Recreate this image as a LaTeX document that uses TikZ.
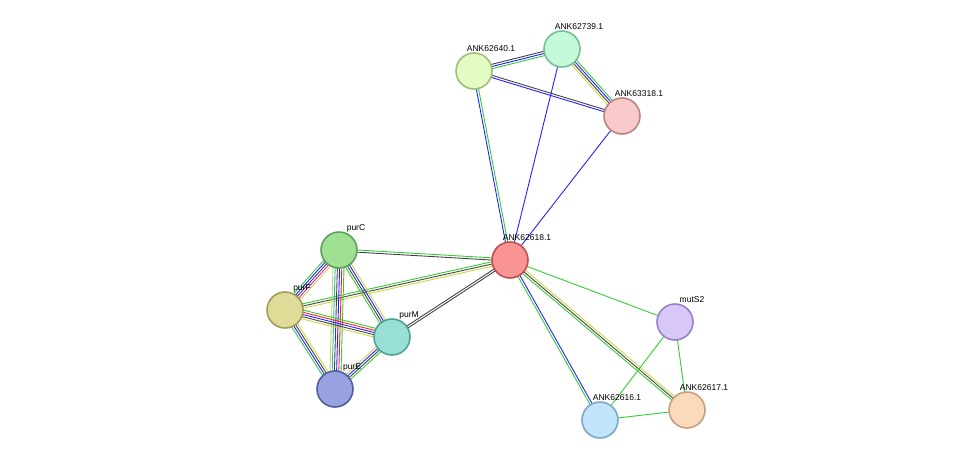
\documentclass[tikz,border=0pt]{standalone}
\usepackage{fontspec}
\setmainfont{Liberation Sans}
\usetikzlibrary{calc, backgrounds}

\definecolor{sgreen}{HTML}{33CC33}
\definecolor{sblue}{HTML}{2222FF}
\definecolor{sblack}{HTML}{444444}
\definecolor{syellow}{HTML}{C8D840}
\definecolor{sred}{HTML}{FF2020}
\definecolor{smag}{HTML}{DD22DD}
\definecolor{scyan}{HTML}{22BBDD}

% multi coloured string edge: #1,#2 nodes, #3 colour list
\newcommand{\sedge}[3]{%
  \foreach \c [count=\i] in {#3} {\xdef\nmax{\i}}%
  \foreach \c [count=\i] in {#3} {%
    \pgfmathsetmacro{\off}{(\i-(\nmax+1)/2)*2.2}
    \draw [\c, line width=0.9pt] ($(#1)!\off pt!90:(#2)$) -- ($(#2)!\off pt!-90:(#1)$);
  }%
}

\begin{document}
\begin{tikzpicture}[x=1pt, y=-1pt,
  prot/.style={draw, circle, line width=1.6pt, minimum size=36pt, inner sep=0pt},
  lbl/.style={anchor=west, xshift=17pt, yshift=22pt, inner sep=0pt, font=\fontsize{8.5}{10}\selectfont}]

\useasboundingbox (0,0) rectangle (976,466);

\node [prot, fill={rgb,255:red,250;green,148;blue,148}, draw={rgb,255:red,190;green,80;blue,80}, label={[lbl]center:ANK62618.1}] (r) at (510,260) {};
\node [prot, fill={rgb,255:red,226;green,252;blue,196}, draw={rgb,255:red,160;green,190;blue,120}, label={[lbl]center:ANK62640.1}] (a40) at (474,71) {};
\node [prot, fill={rgb,255:red,196;green,250;blue,218}, draw={rgb,255:red,120;green,190;blue,150}, label={[lbl]center:ANK62739.1}] (a39) at (562,49) {};
\node [prot, fill={rgb,255:red,248;green,202;blue,202}, draw={rgb,255:red,190;green,130;blue,130}, label={[lbl]center:ANK63318.1}] (a18) at (622,116) {};
\node [prot, fill={rgb,255:red,160;green,224;blue,146}, draw={rgb,255:red,96;green,160;blue,96}, label={[lbl]center:purC}] (pc) at (339,250) {};
\node [prot, fill={rgb,255:red,224;green,220;blue,152}, draw={rgb,255:red,160;green,156;blue,90}, label={[lbl]center:purF}] (pf) at (285,310) {};
\node [prot, fill={rgb,255:red,152;green,224;blue,214}, draw={rgb,255:red,80;green,160;blue,150}, label={[lbl]center:purM}] (pm) at (392,337) {};
\node [prot, fill={rgb,255:red,152;green,162;blue,224}, draw={rgb,255:red,80;green,94;blue,160}, label={[lbl]center:purE}] (pe) at (335,389) {};
\node [prot, fill={rgb,255:red,216;green,200;blue,250}, draw={rgb,255:red,150;green,128;blue,200}, label={[lbl]center:mutS2}] (ms) at (675,322) {};
\node [prot, fill={rgb,255:red,250;green,218;blue,186}, draw={rgb,255:red,196;green,160;blue,126}, label={[lbl]center:ANK62617.1}] (a17) at (687,410) {};
\node [prot, fill={rgb,255:red,192;green,228;blue,250}, draw={rgb,255:red,126;green,168;blue,196}, label={[lbl]center:ANK62616.1}] (a16) at (600,420) {};

\begin{pgfonlayer}{background}
\sedge{r}{a40}{sgreen,sblue}
\sedge{r}{a39}{sblue}
\sedge{r}{a18}{sblue}
\sedge{a40}{a39}{sgreen,sblue,sblack}
\sedge{a40}{a18}{sblue,sblack}
\sedge{a39}{a18}{syellow,sblack,sblue,sgreen}
\sedge{r}{pc}{sgreen,sblack}
\sedge{r}{pf}{sgreen,sblack,syellow}
\sedge{r}{pm}{sblack,sblack}
\sedge{r}{ms}{sgreen}
\sedge{r}{a17}{sgreen,sblack,syellow}
\sedge{r}{a16}{sgreen,sblue}
\sedge{ms}{a17}{sgreen}
\sedge{ms}{a16}{sgreen}
\sedge{a16}{a17}{sgreen}
\sedge{pc}{pf}{sgreen,sblue,sblack,smag,syellow}
\sedge{pc}{pm}{sgreen,sblack,sblue,syellow}
\sedge{pc}{pe}{syellow,scyan,sblack,sblue,sred,sgreen}
\sedge{pf}{pm}{syellow,sblack,sblue,sred,sgreen}
\sedge{pf}{pe}{sgreen,sblue,sblack,syellow}
\sedge{pm}{pe}{syellow,sblue,sblack,sgreen}
\end{pgfonlayer}

\end{tikzpicture}
\end{document}
